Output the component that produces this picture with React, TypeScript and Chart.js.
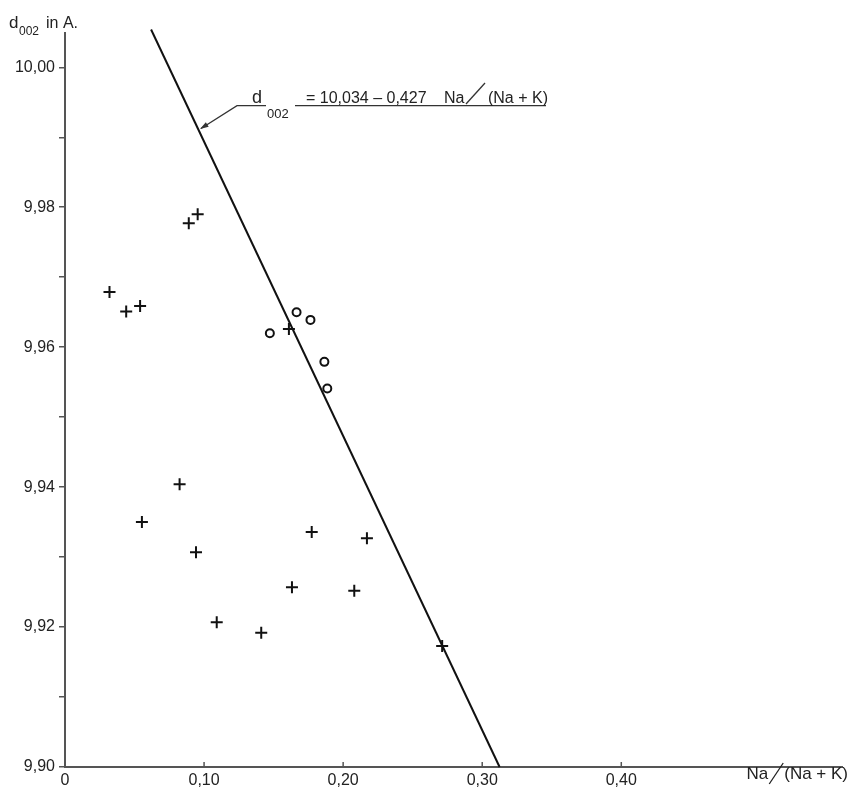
import React, { useEffect, useRef } from "react";
import { Chart, registerables } from "chart.js";

Chart.register(...registerables);

// Na/(Na+K) and d002 values for "+" samples
const crossX = [0.032, 0.044, 0.054, 0.089, 0.0954, 0.161, 0.0824, 0.0553, 0.0942, 0.1091, 0.1411, 0.1632, 0.1774, 0.2171, 0.208, 0.2712];
const crossY = [9.9679, 9.9651, 9.9659, 9.9777, 9.979, 9.9626, 9.9404, 9.935, 9.9307, 9.9207, 9.9192, 9.9257, 9.9336, 9.9327, 9.9252, 9.9173];
// "o" samples
const circleX = [0.1473, 0.1665, 0.1765, 0.1865, 0.1886];
const circleY = [9.962, 9.965, 9.9639, 9.9579, 9.9541];
// regression line end points (as drawn)
const fitLineX = [0.0619, 0.3125];
const fitLineY = [10.0054, 9.9];

const xTicks = [0, 0.1, 0.2, 0.3, 0.4];
const xTickLabels = ["0", "0,10", "0,20", "0,30", "0,40"];
const yTicks = [9.9, 9.91, 9.92, 9.93, 9.94, 9.95, 9.96, 9.97, 9.98, 9.99, 10.0];
const yTickLabels = ["9,90", "", "9,92", "", "9,94", "", "9,96", "", "9,98", "", "10,00"];

const FONT = "'Liberation Sans', Arial, sans-serif";
const TXT = "#222";
const AXIS = "#555";

const annotations = {
  id: "annotations",
  afterDraw(chart: any) {
    const ctx = chart.ctx as CanvasRenderingContext2D;
    const xs = chart.scales.x;
    const area = chart.chartArea;
    ctx.save();
    ctx.fillStyle = TXT;
    ctx.strokeStyle = AXIS;
    ctx.textBaseline = "alphabetic";
    ctx.textAlign = "left";

    // inner x ticks
    ctx.lineWidth = 1.5;
    xTicks.forEach((v) => {
      const px = xs.getPixelForValue(v);
      ctx.beginPath();
      ctx.moveTo(px, area.bottom);
      ctx.lineTo(px, area.bottom - 5);
      ctx.stroke();
    });

    // y axis title
    ctx.font = `17px ${FONT}`;
    ctx.fillText("d", 9, 28);
    ctx.font = `12px ${FONT}`;
    ctx.fillText("002", 19, 35);
    ctx.font = `16px ${FONT}`;
    ctx.fillText("in A.", 46, 28);

    // x axis title
    ctx.font = `17px ${FONT}`;
    ctx.strokeStyle = TXT;
    ctx.lineWidth = 1.3;
    const part2 = "(Na + K)";
    const w2 = ctx.measureText(part2).width;
    const x2 = 848 - w2;
    ctx.fillText(part2, x2, 779);
    const sx1 = x2 - 1;
    ctx.beginPath();
    ctx.moveTo(sx1 - 14, 784);
    ctx.lineTo(sx1, 763);
    ctx.stroke();
    const wNa = ctx.measureText("Na").width;
    ctx.fillText("Na", sx1 - 14 - wNa - 1, 779);

    // equation
    ctx.strokeStyle = "#333";
    ctx.lineWidth = 1.3;
    ctx.beginPath();
    ctx.moveTo(201, 128.5);
    ctx.lineTo(237, 105.7);
    ctx.lineTo(266, 105.7);
    ctx.moveTo(295, 105.7);
    ctx.lineTo(546, 105.7);
    ctx.stroke();
    // arrowhead
    ctx.fillStyle = "#333";
    ctx.beginPath();
    const ang = Math.atan2(105.7 - 128.5, 237 - 201);
    ctx.moveTo(200, 129);
    ctx.lineTo(200 + 9 * Math.cos(ang - 0.3), 129 + 9 * Math.sin(ang - 0.3));
    ctx.lineTo(200 + 9 * Math.cos(ang + 0.3), 129 + 9 * Math.sin(ang + 0.3));
    ctx.closePath();
    ctx.fill();

    ctx.fillStyle = TXT;
    ctx.font = `18px ${FONT}`;
    ctx.fillText("d", 252, 103);
    ctx.font = `13px ${FONT}`;
    ctx.fillText("002", 267, 118);
    ctx.font = `16px ${FONT}`;
    ctx.fillText("= 10,034 – 0,427", 306, 103);
    ctx.fillText("Na", 444, 103);
    ctx.beginPath();
    ctx.moveTo(466, 104);
    ctx.lineTo(485, 83);
    ctx.stroke();
    const wp = ctx.measureText("(Na + K)").width;
    ctx.fillText("(Na + K)", 548 - wp, 103);

    ctx.restore();
  },
};

export default function App() {
  const ref = useRef<HTMLCanvasElement | null>(null);
  useEffect(() => {
    document.body.style.margin = "0";
    const canvas = ref.current;
    if (!canvas) return;
    const chart = new Chart(canvas, {
      type: "scatter",
      data: {
        datasets: [
          {
            label: "fit",
            data: fitLineX.map((x, i) => ({ x, y: fitLineY[i] })),
            showLine: true,
            borderColor: "#111",
            borderWidth: 2,
            pointRadius: 0,
            clip: false,
          } as any,
          {
            label: "cross",
            data: crossX.map((x, i) => ({ x, y: crossY[i] })),
            pointStyle: "cross",
            pointRadius: 6,
            borderColor: "#111",
            borderWidth: 2,
            backgroundColor: "#111",
          },
          {
            label: "circle",
            data: circleX.map((x, i) => ({ x, y: circleY[i] })),
            pointStyle: "circle",
            pointRadius: 4,
            borderColor: "#111",
            borderWidth: 2,
            backgroundColor: "rgba(0,0,0,0)",
          },
        ],
      },
      options: {
        responsive: false,
        animation: false,
        layout: { padding: { top: 33, right: 0, left: 0, bottom: 0 } },
        plugins: { legend: { display: false }, tooltip: { enabled: false } },
        scales: {
          x: {
            type: "linear",
            min: 0,
            max: 0.5587,
            afterBuildTicks: (s: any) => {
              s.ticks = xTicks.map((v) => ({ value: v }));
            },
            afterFit: (s: any) => {
              s.height = 22;
            },
            grid: { display: false, drawTicks: false },
            border: { display: true, color: AXIS, width: 2 },
            ticks: {
              padding: 4,
              autoSkip: false,
              maxRotation: 0,
              color: TXT,
              font: { family: FONT, size: 16 },
              callback: (_v: any, i: number) => xTickLabels[i] ?? "",
            },
          },
          y: {
            type: "linear",
            min: 9.9,
            max: 10.0049,
            afterBuildTicks: (s: any) => {
              s.ticks = yTicks.map((v) => ({ value: v }));
            },
            afterFit: (s: any) => {
              s.width = 65;
            },
            grid: { display: true, drawOnChartArea: false, drawTicks: true, tickLength: 6, color: AXIS, lineWidth: 1.5 },
            border: { display: true, color: AXIS, width: 2 },
            ticks: {
              padding: 4,
              autoSkip: false,
              color: TXT,
              font: { family: FONT, size: 16 },
              callback: (_v: any, i: number) => yTickLabels[i] ?? "",
            },
          },
        },
      },
      plugins: [annotations],
    });
    return () => chart.destroy();
  }, []);
  return (
    <div style={{ width: 850, height: 789 }}>
      <canvas ref={ref} width={850} height={789} style={{ display: "block", width: 850, height: 789 }} />
    </div>
  );
}
